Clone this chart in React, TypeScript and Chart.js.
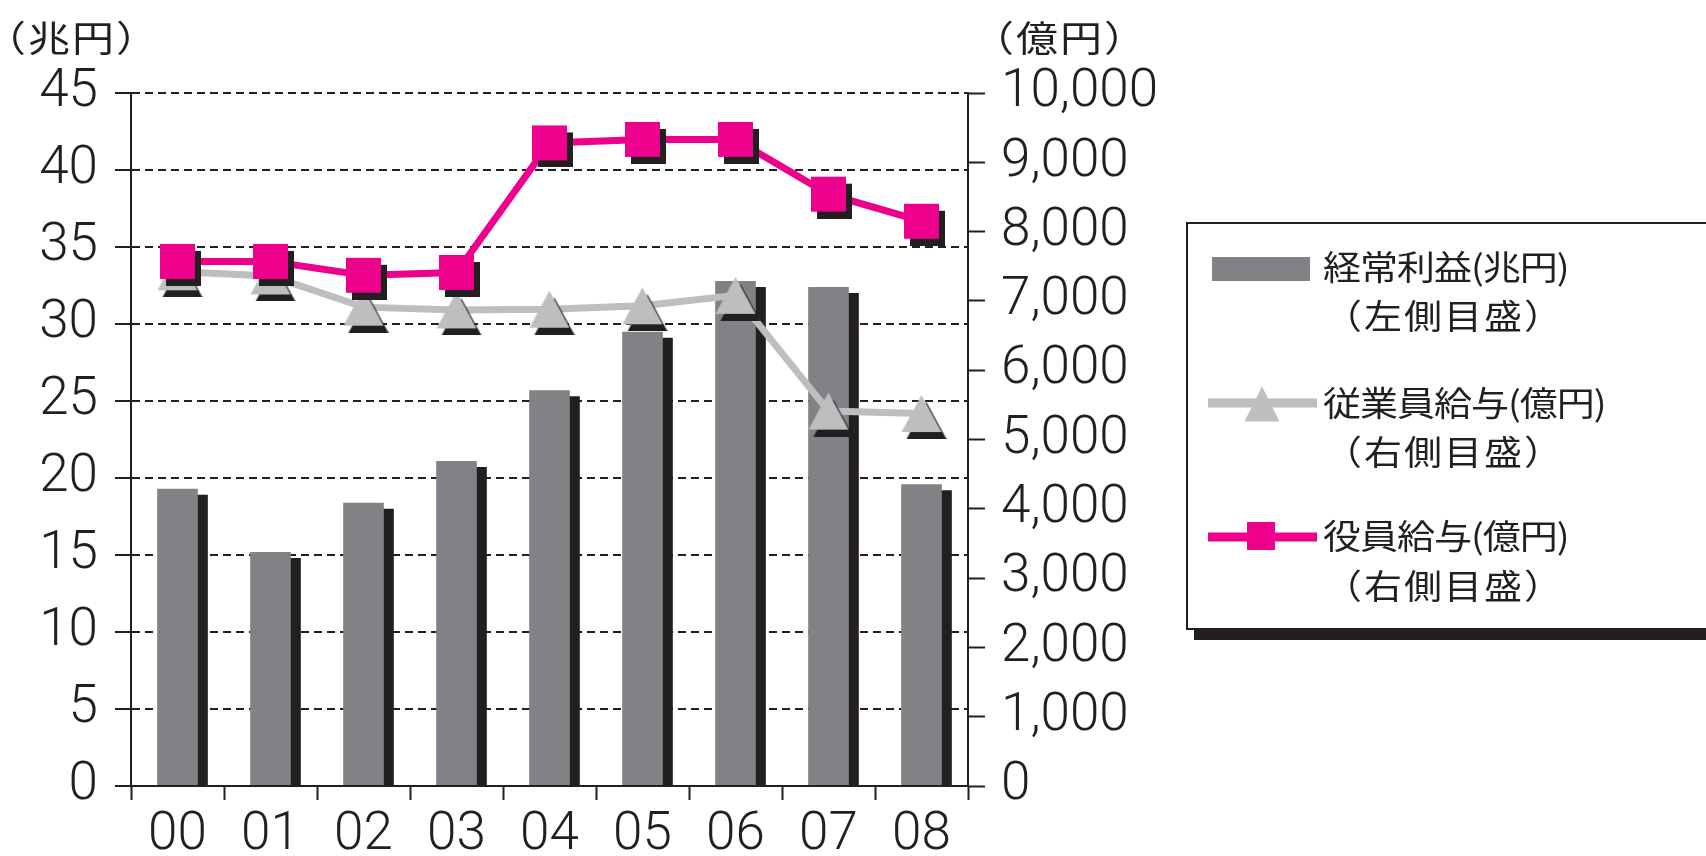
import React, { useEffect, useRef } from "react";
import { Chart, registerables } from "chart.js";

Chart.register(...registerables);

// ---- data ----
const years = ["00", "01", "02", "03", "04", "05", "06", "07", "08"];
const ordinaryProfit = [19.3, 15.2, 18.4, 21.1, 25.7, 29.5, 32.8, 32.4, 19.6]; // 兆円 (left)
const employeeSalary = [7420, 7360, 6910, 6870, 6880, 6930, 7080, 5410, 5375]; // 億円 (right)
const executiveSalary = [7570, 7570, 7370, 7410, 9280, 9330, 9330, 8540, 8150]; // 億円 (right)

const leftAxisRange = [0, 45, 5];
const rightAxisRange = [0, 10000, 1000];

const leftUnit = "（兆円）";
const rightUnit = "（億円）";
const legendProfit = ["経常利益(兆円)", "（左側目盛）"];
const legendEmployee = ["従業員給与(億円)", "（右側目盛）"];
const legendExecutive = ["役員給与(億円)", "（右側目盛）"];

// ---- styles ----
const BAR = "#808285";
const SHADOW = "#231f20";
const GRAY = "#bcbec0";
const MAGENTA = "#ec008c";
const INK = "#231f20";
const NUM_FONT = "Roboto";
const JP_FONT = "'Noto Sans CJK JP'";

function squareMarker(size: number, dx: number, dy: number) {
  const c = document.createElement("canvas");
  c.width = size + 2 * dx;
  c.height = size + 2 * dy;
  const g = c.getContext("2d")!;
  g.fillStyle = SHADOW;
  g.fillRect(2 * dx, 2 * dy, size, size);
  g.fillStyle = MAGENTA;
  g.fillRect(dx, dy, size, size);
  return c;
}

function triangleMarker(w: number, h: number, dx: number, dy: number) {
  const c = document.createElement("canvas");
  c.width = w + 2 * dx;
  c.height = h + 2 * dy;
  const g = c.getContext("2d")!;
  const tri = (ox: number, oy: number, col: string) => {
    g.fillStyle = col;
    g.beginPath();
    g.moveTo(ox + w / 2, oy);
    g.lineTo(ox + w, oy + h);
    g.lineTo(ox, oy + h);
    g.closePath();
    g.fill();
  };
  tri(2 * dx, 2 * dy, SHADOW);
  tri(dx, dy, GRAY);
  return c;
}

function drawTri(g: CanvasRenderingContext2D, cx: number, cy: number, w: number, h: number) {
  g.beginPath();
  g.moveTo(cx, cy - h / 2);
  g.lineTo(cx + w / 2, cy + h / 2);
  g.lineTo(cx - w / 2, cy + h / 2);
  g.closePath();
  g.fill();
}

function squashedText(
  g: CanvasRenderingContext2D,
  text: string,
  inkLeft: number,
  cy: number,
  sy: number
) {
  const m = g.measureText(text);
  g.save();
  g.translate(inkLeft + m.actualBoundingBoxLeft, cy);
  g.scale(1, sy);
  g.fillText(text, 0, 0);
  g.restore();
}

const decorPlugin = {
  id: "decor",
  beforeDatasetDraw(chart: any, args: any) {
    if (args.index === 2) {
      const c = chart.ctx;
      c.save();
      c.shadowColor = SHADOW;
      c.shadowOffsetX = 10;
      c.shadowOffsetY = 6;
      c.shadowBlur = 0;
    }
  },
  afterDatasetDraw(chart: any, args: any) {
    if (args.index === 2) chart.ctx.restore();
  },
  afterDraw(chart: any) {
    const c: CanvasRenderingContext2D = chart.ctx;
    c.save();
    // unit titles
    c.fillStyle = INK;
    c.font = `42px ${JP_FONT}`;
    (c as any).letterSpacing = "2px";
    c.textBaseline = "middle";
    c.textAlign = "left";
    squashedText(c, leftUnit, 13, 38, 0.86);
    squashedText(c, rightUnit, 1001, 38, 0.86);

    // legend box
    c.fillStyle = SHADOW;
    c.fillRect(1194, 233, 600, 407);
    c.fillStyle = "#ffffff";
    c.fillRect(1187, 223, 600, 406);
    c.strokeStyle = INK;
    c.lineWidth = 2;
    c.strokeRect(1187, 223, 600, 406);

    // symbols
    c.fillStyle = BAR;
    c.fillRect(1212, 257, 98, 24);

    c.strokeStyle = GRAY;
    c.lineWidth = 9;
    c.beginPath();
    c.moveTo(1208, 403);
    c.lineTo(1317, 403);
    c.stroke();
    c.fillStyle = GRAY;
    drawTri(c, 1262, 404, 35, 35);

    c.strokeStyle = MAGENTA;
    c.beginPath();
    c.moveTo(1208, 537);
    c.lineTo(1317, 537);
    c.stroke();
    c.fillStyle = MAGENTA;
    c.fillRect(1247, 522, 28, 28);

    // legend text
    c.fillStyle = INK;
    c.font = `38px ${JP_FONT}`;
    const rows: [string[], number, number][] = [
      [legendProfit, 267, 316],
      [legendEmployee, 403, 452],
      [legendExecutive, 536, 586],
    ];
    rows.forEach(([t, y1, y2]) => {
      (c as any).letterSpacing = "-1px";
      squashedText(c, t[0], 1323, y1, 0.9);
      (c as any).letterSpacing = "2px";
      squashedText(c, t[1], 1350, y2, 0.9);
    });
    c.restore();
  },
};

export default function App() {
  const ref = useRef<HTMLCanvasElement>(null);
  useEffect(() => {
    const canvas = ref.current!;
    const sq = squareMarker(35, 6, 7);
    const tri = triangleMarker(40, 37, 5, 7);
    const numFont = { family: NUM_FONT, size: 53, weight: 300 as any };
    const chart = new Chart(canvas, {
      type: "bar",
      data: {
        labels: years,
        datasets: [
          {
            type: "line",
            label: legendExecutive[0],
            data: executiveSalary,
            yAxisID: "y1",
            borderColor: MAGENTA,
            backgroundColor: MAGENTA,
            borderWidth: 7,
            pointStyle: sq as any,
            pointRadius: 18,
            tension: 0,
            fill: false,
            order: 0,
          } as any,
          {
            type: "line",
            label: legendEmployee[0],
            data: employeeSalary,
            yAxisID: "y1",
            borderColor: GRAY,
            backgroundColor: GRAY,
            borderWidth: 7,
            pointStyle: tri as any,
            pointRadius: 18,
            tension: 0,
            fill: false,
            order: 1,
          } as any,
          {
            type: "bar",
            label: legendProfit[0],
            data: ordinaryProfit,
            yAxisID: "y",
            backgroundColor: BAR,
            barPercentage: 0.437,
            categoryPercentage: 1,
            clip: 0,
            order: 2,
          } as any,
        ],
      },
      options: {
        responsive: false,
        animation: false,
        events: [],
        devicePixelRatio: 1,
        layout: { padding: { top: 93, left: 0, right: 0, bottom: 0 } },
        plugins: { legend: { display: false }, tooltip: { enabled: false } },
        scales: {
          x: {
            type: "category",
            offset: true,
            z: 1,
            grid: {
              display: true,
              offset: true,
              drawOnChartArea: false,
              tickLength: 14,
              tickWidth: 2,
              tickColor: INK,
            },
            border: { display: true, color: INK, width: 2 },
            ticks: { color: INK, font: numFont, padding: 4, maxRotation: 0, autoSkip: false },
            afterFit: (s: any) => {
              s.height = 70;
            },
          },
          y: {
            type: "linear",
            position: "left",
            min: leftAxisRange[0],
            max: leftAxisRange[1],
            ticks: { stepSize: leftAxisRange[2], color: INK, font: numFont, padding: 17 },
            grid: {
              color: (ctx: any) => (ctx.tick && ctx.tick.value === 0 ? "rgba(0,0,0,0)" : INK),
              lineWidth: 2,
              tickLength: 16,
              tickColor: INK,
              tickWidth: 2,
              tickBorderDash: [],
            },
            border: { display: true, color: INK, width: 2, dash: [8, 5] },
            afterFit: (s: any) => {
              s.width = 131;
            },
          },
          y1: {
            type: "linear",
            position: "right",
            min: rightAxisRange[0],
            max: rightAxisRange[1],
            ticks: {
              stepSize: rightAxisRange[2],
              color: INK,
              font: numFont,
              padding: 16,
              callback: (v: any) => Number(v).toLocaleString("en-US"),
            },
            grid: {
              drawOnChartArea: false,
              tickLength: 17,
              tickColor: INK,
              tickWidth: 2,
            },
            border: { display: true, color: INK, width: 2 },
            afterFit: (s: any) => {
              s.width = 738;
            },
          },
        },
      } as any,
      plugins: [decorPlugin as any],
    });
    return () => chart.destroy();
  }, []);
  return (
    <div style={{ position: "absolute", left: 0, top: 0, width: 1706, height: 856, background: "#fff" }}>
      <canvas ref={ref} width={1706} height={856} style={{ display: "block", width: 1706, height: 856 }} />
    </div>
  );
}
